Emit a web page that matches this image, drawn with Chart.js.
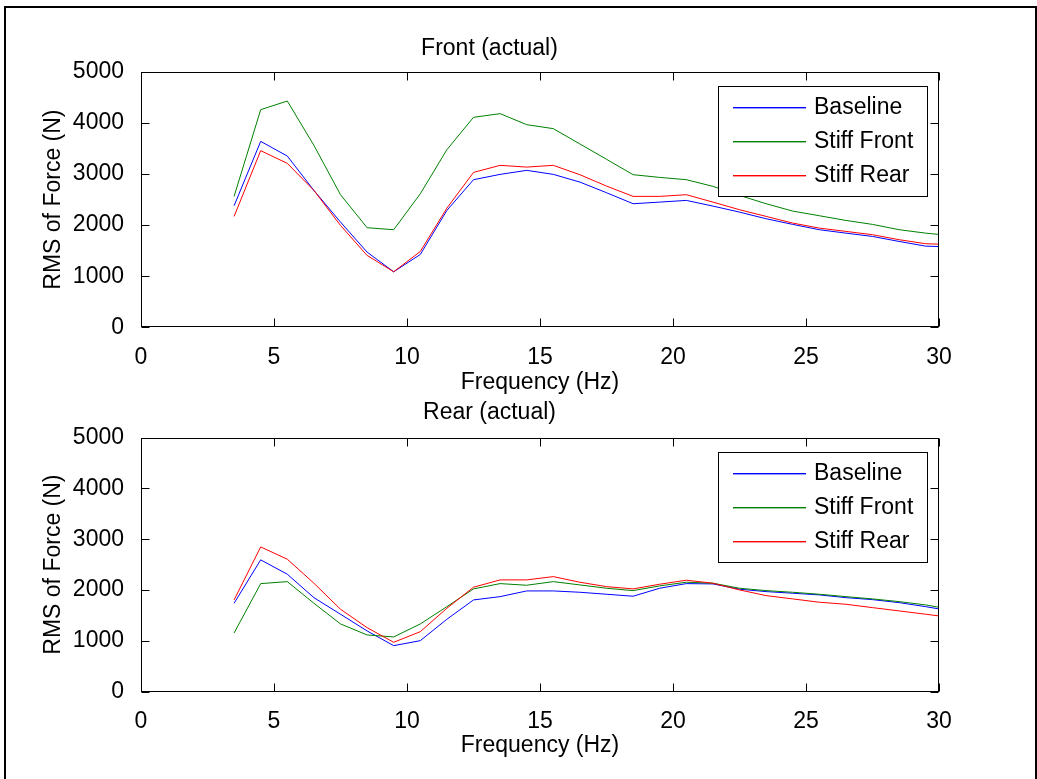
<!DOCTYPE html>
<html>
<head>
<meta charset="utf-8">
<script src="https://cdn.jsdelivr.net/npm/chart.js@4.4.1/dist/chart.umd.min.js"></script>
<style>
html,body{margin:0;padding:0;background:#fff;overflow:hidden;}
#page{position:relative;width:1037px;height:779px;}
#frame{position:absolute;left:4px;top:6px;width:1033px;height:800px;border:2px solid #000;box-sizing:border-box;}
canvas{position:absolute;left:0;}
#front{top:0;}
#rear{top:390px;}
</style>
</head>
<body>
<div id="page">
  <div id="frame"></div>
  <canvas id="front" width="1037" height="400"></canvas>
  <canvas id="rear" width="1037" height="389"></canvas>
</div>
<script>
/* RMS of force vs frequency, front and rear */
const freq = [3.5,4.5,5.5,6.5,7.5,8.5,9.5,10.5,11.5,12.5,13.5,14.5,15.5,16.5,17.5,18.5,19.5,20.5,21.5,22.5,23.5,24.5,25.5,26.5,27.5,28.5,29.5,30];
const labels = ['Baseline','Stiff Front','Stiff Rear'];
const colors = ['#0000ff','#008000','#ff0000'];
const xTicks = [0,5,10,15,20,25,30];
const yTicks = [0,1000,2000,3000,4000,5000];

const frontBaseline   = [2380,3641,3353,2680,2059,1471,1086,1425,2288,2890,2994,3073,2994,2843,2635,2419,2451,2484,2373,2255,2125,2014,1910,1843,1778,1680,1588,1580];
const frontStiffFront = [2563,4262,4431,3563,2596,1949,1910,2615,3478,4112,4184,3968,3890,3590,3290,2988,2935,2890,2760,2582,2419,2275,2184,2092,2014,1910,1843,1818];
const frontStiffRear  = [2171,3459,3210,2680,1994,1406,1086,1484,2333,3033,3171,3137,3171,2988,2765,2563,2563,2596,2451,2302,2171,2040,1942,1877,1812,1714,1635,1627];

const rearBaseline    = [1740,2593,2311,1850,1524,1195,906,1004,1425,1805,1870,1982,1982,1956,1917,1878,2035,2126,2120,2016,1969,1937,1904,1850,1811,1752,1673,1628];
const rearStiffFront  = [1155,2126,2165,1740,1333,1116,1077,1333,1673,2022,2126,2094,2165,2100,2035,1988,2081,2153,2134,2035,1988,1956,1917,1870,1825,1772,1707,1661];
const rearStiffRear   = [1805,2848,2606,2134,1622,1260,972,1181,1642,2055,2199,2199,2264,2153,2067,2022,2114,2193,2134,2002,1890,1825,1760,1720,1654,1589,1524,1490];

const FONT = {family:"'Liberation Sans', Arial, Helvetica, sans-serif", size:23, weight:'normal', lineHeight:1.2};

// box round the plot, ticks pointing inward on all four sides, and the legend
const matlabAxes = {
  id:'matlabAxes',
  afterDraw(chart){
    const {ctx, chartArea:a, scales} = chart;
    const L = Math.round(a.left)+0.5, R = Math.round(a.right)-0.5;
    const T = Math.round(a.top)+0.5, B = Math.round(a.bottom)-0.5;
    const tl = 8;
    ctx.save();
    ctx.lineWidth = 1;
    ctx.strokeStyle = '#000';
    ctx.strokeRect(L, T, R-L, B-T);
    ctx.beginPath();
    scales.x.ticks.forEach(t=>{
      const px = Math.round(scales.x.getPixelForValue(t.value))+0.5;
      ctx.moveTo(px,B); ctx.lineTo(px,B-tl);
      ctx.moveTo(px,T); ctx.lineTo(px,T+tl);
    });
    scales.y.ticks.forEach(t=>{
      const py = Math.round(scales.y.getPixelForValue(t.value))+0.5;
      ctx.moveTo(L,py); ctx.lineTo(L+tl,py);
      ctx.moveTo(R,py); ctx.lineTo(R-tl,py);
    });
    ctx.stroke();

    // legend
    const bw = 209, bh = 110;
    const bx = Math.round(a.right - 12 - bw), by = Math.round(a.top + 14);
    ctx.fillStyle = '#fff';
    ctx.fillRect(bx, by, bw, bh);
    ctx.strokeStyle = '#000';
    ctx.strokeRect(bx+0.5, by+0.5, bw, bh);
    ctx.font = FONT.size+'px '+FONT.family;
    ctx.textBaseline = 'middle'; ctx.textAlign = 'left';
    labels.forEach((lab,i)=>{
      const y = Math.round(by + 20.5 + i*34);
      ctx.fillStyle = colors[i];
      ctx.fillRect(bx+15, y, 73, 1.4);
      ctx.fillStyle = '#000';
      ctx.fillText(lab, bx+96, y+1);
    });
    ctx.restore();
  }
};

function makeChart(id, title, series, lay){
  const ctx = document.getElementById(id).getContext('2d');
  return new Chart(ctx, {
    type:'line',
    data:{datasets: series.map((s,i)=>({
      label: labels[i],
      data: freq.map((f,j)=>({x:f, y:s[j]})),
      borderColor: colors[i], backgroundColor: colors[i],
      borderWidth:1, pointRadius:0, tension:0, fill:false,
      order: series.length - i
    }))},
    options:{
      responsive:false, animation:false, devicePixelRatio:1,
      layout:{padding:lay.pad},
      plugins:{
        legend:{display:false}, tooltip:{enabled:false},
        title:{display:true, text:title, color:'#000', font:FONT, padding:lay.titlePad}
      },
      scales:{
        x:{type:'linear', min:0, max:30,
          afterBuildTicks: s => { s.ticks = xTicks.map(v=>({value:v})); },
          afterFit: s => { s.height = lay.xH; },
          grid:{display:false}, border:{display:false},
          ticks:{color:'#000', font:FONT, padding:8.2, autoSkip:false, maxRotation:0, callback:v=>String(v)},
          title:{display:true, text:'Frequency (Hz)', color:'#000', font:FONT, padding:0}},
        y:{type:'linear', min:0, max:5000,
          afterBuildTicks: s => { s.ticks = yTicks.map(v=>({value:v})); },
          afterFit: s => { s.width = 101; },
          grid:{display:false}, border:{display:false},
          ticks:{color:'#000', font:FONT, padding:9, autoSkip:false, callback:v=>String(v)},
          title:{display:true, text:'RMS of Force (N)', color:'#000', font:FONT, padding:0}}
      }
    },
    plugins:[matlabAxes]
  });
}

makeChart('front', 'Front (actual)', [frontBaseline, frontStiffFront, frontStiffRear],
  {pad:{top:31, left:40, right:98, bottom:4}, titlePad:{top:4.2, bottom:9.2}, xH:68.8});
makeChart('rear', 'Rear (actual)', [rearBaseline, rearStiffFront, rearStiffRear],
  {pad:{top:5, left:40, right:98, bottom:19.2}, titlePad:{top:4.2, bottom:10.7}, xH:68.1});
</script>
</body>
</html>
